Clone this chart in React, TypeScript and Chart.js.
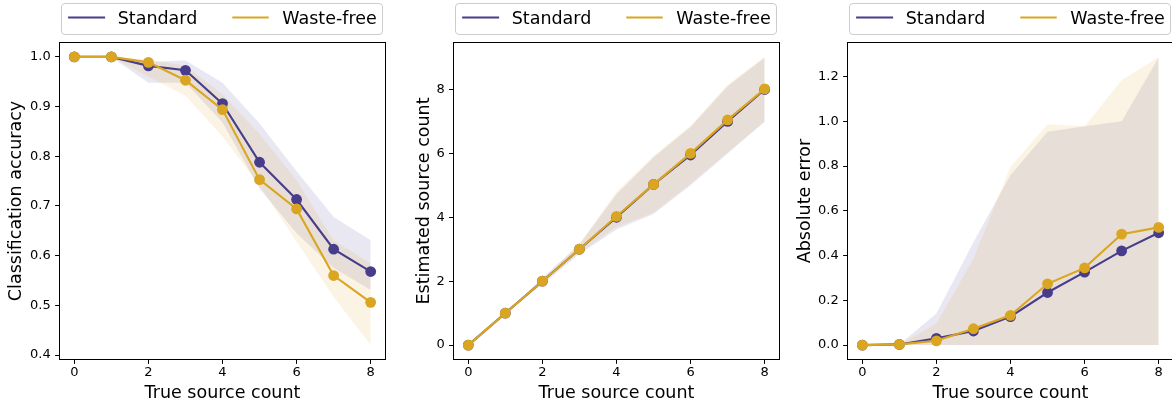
import React, { useEffect, useRef } from 'react';
import { Chart, registerables } from 'chart.js';

Chart.register(...registerables);

// ---------------- data ----------------
const COUNTS = [0, 1, 2, 3, 4, 5, 6, 7, 8];
const X_TICKS = [0, 2, 4, 6, 8];
const SERIES_NAMES = ['Standard', 'Waste-free'];
const X_LABEL = 'True source count';

// Panel 1: classification accuracy
const ACC_STD_MEAN = [1.0, 1.0, 0.982, 0.973, 0.906, 0.788, 0.713, 0.613, 0.568];
const ACC_STD_UPPER = [1.0, 1.0, 0.99, 0.993, 0.948, 0.866, 0.77, 0.678, 0.631];
const ACC_STD_LOWER = [1.0, 1.0, 0.948, 0.948, 0.868, 0.735, 0.645, 0.575, 0.531];
const ACC_WF_MEAN = [1.0, 1.0, 0.989, 0.953, 0.894, 0.753, 0.694, 0.56, 0.506];
const ACC_WF_UPPER = [1.0, 1.0, 0.995, 0.982, 0.925, 0.845, 0.752, 0.631, 0.584];
const ACC_WF_LOWER = [1.0, 1.0, 0.96, 0.922, 0.84, 0.74, 0.628, 0.517, 0.42];
const ACC_Y_TICKS = [0.4, 0.5, 0.6, 0.7, 0.8, 0.9, 1.0];

// Panel 2: estimated source count
const EST_STD_MEAN = [0, 1, 2, 3, 4.0, 5.03, 5.95, 7.0, 8.0];
const EST_STD_UPPER = [0, 1, 2.1, 3.15, 4.72, 5.88, 6.83, 8.1, 9.0];
const EST_STD_LOWER = [0, 1, 1.9, 2.85, 3.62, 4.1, 5.0, 6.0, 6.99];
const EST_WF_MEAN = [0, 1, 2, 3, 4.03, 5.03, 6.0, 7.05, 8.02];
const EST_WF_UPPER = [0, 1, 2.08, 3.18, 4.8, 5.92, 6.87, 8.15, 9.02];
const EST_WF_LOWER = [0, 1, 1.95, 2.9, 3.7, 4.14, 5.05, 6.03, 7.0];
const EST_Y_TICKS = [0, 2, 4, 6, 8];

// Panel 3: absolute error
const ERR_STD_MEAN = [0, 0.003, 0.03, 0.063, 0.127, 0.235, 0.326, 0.421, 0.502];
const ERR_STD_UPPER = [0, 0.003, 0.141, 0.46, 0.76, 0.953, 0.978, 1.0, 1.285];
const ERR_STD_LOWER = [0, 0, 0, 0, 0, 0, 0, 0, 0];
const ERR_WF_MEAN = [0, 0.003, 0.019, 0.073, 0.133, 0.274, 0.345, 0.496, 0.526];
const ERR_WF_UPPER = [0, 0.003, 0.097, 0.387, 0.797, 0.987, 0.978, 1.184, 1.288];
const ERR_WF_LOWER = [0, 0, 0, 0, 0, 0, 0, 0, 0];
const ERR_Y_TICKS = [0, 0.2, 0.4, 0.6, 0.8, 1.0, 1.2];

// ---------------- styles ----------------
const STD_COLOR = '#483d8b';
const WF_COLOR = '#daa520';
const STD_FILL = 'rgba(72,61,139,0.12)';
const WF_FILL = 'rgba(218,165,32,0.12)';
const FONT = "'DejaVu Sans', 'Noto Sans', sans-serif";

const CANVAS_W = 394;
const CANVAS_H = 403;
const Y_AXIS_W = 59.5;
const X_AXIS_H = 43.5;
const PAD_TOP = 42.5;
const PAD_RIGHT = 8.5;

type PanelCfg = {
  yLabel: string;
  stdMean: number[]; stdUpper: number[]; stdLower: number[];
  wfMean: number[]; wfUpper: number[]; wfLower: number[];
  yTicks: number[];
  decimals: number;
  yTitlePad: number;
};

const PANELS: PanelCfg[] = [
  {
    yLabel: 'Classification accuracy',
    stdMean: ACC_STD_MEAN, stdUpper: ACC_STD_UPPER, stdLower: ACC_STD_LOWER,
    wfMean: ACC_WF_MEAN, wfUpper: ACC_WF_UPPER, wfLower: ACC_WF_LOWER,
    yTicks: ACC_Y_TICKS, decimals: 1, yTitlePad: 7.0,
  },
  {
    yLabel: 'Estimated source count',
    stdMean: EST_STD_MEAN, stdUpper: EST_STD_UPPER, stdLower: EST_STD_LOWER,
    wfMean: EST_WF_MEAN, wfUpper: EST_WF_UPPER, wfLower: EST_WF_LOWER,
    yTicks: EST_Y_TICKS, decimals: 0, yTitlePad: 20.4,
  },
  {
    yLabel: 'Absolute error',
    stdMean: ERR_STD_MEAN, stdUpper: ERR_STD_UPPER, stdLower: ERR_STD_LOWER,
    wfMean: ERR_WF_MEAN, wfUpper: ERR_WF_UPPER, wfLower: ERR_WF_LOWER,
    yTicks: ERR_Y_TICKS, decimals: 1, yTitlePad: 7.9,
  },
];

const pts = (arr: number[]) => COUNTS.map((x, i) => ({ x, y: arr[i] }));

function paddedRange(arrs: number[][]) {
  const all = ([] as number[]).concat(...arrs);
  const lo = Math.min(...all);
  const hi = Math.max(...all);
  const m = (hi - lo) * 0.05;
  return [lo - m, hi + m];
}

const framePlugin = {
  id: 'mplFrame',
  afterDatasetsDraw(chart: any) {
    const { ctx, chartArea: a } = chart;
    ctx.save();
    ctx.strokeStyle = '#000';
    ctx.lineWidth = 1;
    ctx.strokeRect(a.left, a.top, a.right - a.left, a.bottom - a.top);
    ctx.restore();
  },
};

const legendPlugin = {
  id: 'mplLegend',
  afterDraw(chart: any) {
    const { ctx, chartArea: a } = chart;
    const L = a.left;
    ctx.save();
    const bx = L + 2.0;
    const by = 3.5;
    const bw = 321;
    const bh = 31;
    ctx.beginPath();
    (ctx as any).roundRect(bx, by, bw, bh, 3.5);
    ctx.fillStyle = 'rgba(255,255,255,0.8)';
    ctx.fill();
    ctx.strokeStyle = 'rgb(204,204,204)';
    ctx.lineWidth = 1;
    ctx.stroke();

    const hy = 17.5;
    const items = [
      { color: STD_COLOR, h0: L + 8.6, h1: L + 45.6, tx: L + 58.2, text: SERIES_NAMES[0] },
      { color: WF_COLOR, h0: L + 172.8, h1: L + 209.2, tx: L + 222.8, text: SERIES_NAMES[1] },
    ];
    ctx.font = `17.5px ${FONT}`;
    ctx.textBaseline = 'alphabetic';
    ctx.textAlign = 'left';
    for (const it of items) {
      ctx.beginPath();
      ctx.strokeStyle = it.color;
      ctx.lineWidth = 2.1;
      ctx.moveTo(it.h0, hy);
      ctx.lineTo(it.h1, hy);
      ctx.stroke();
      ctx.fillStyle = '#000';
      ctx.fillText(it.text, it.tx, 24.1);
    }
    ctx.restore();
  },
};

function buildConfig(p: PanelCfg): any {
  const [ymin, ymax] = paddedRange([p.stdMean, p.stdUpper, p.stdLower, p.wfMean, p.wfUpper, p.wfLower]);
  const band = (data: number[], fill: any, bg: string, order: number) => ({
    data: pts(data),
    borderColor: 'rgba(0,0,0,0)',
    borderWidth: 0,
    backgroundColor: bg,
    pointRadius: 0,
    pointHoverRadius: 0,
    fill,
    order,
  });
  const line = (data: number[], color: string, order: number, label: string) => ({
    label,
    data: pts(data),
    borderColor: color,
    backgroundColor: color,
    borderWidth: 2.1,
    pointRadius: 5.4,
    pointHoverRadius: 5.4,
    pointBorderWidth: 0,
    pointBackgroundColor: color,
    pointBorderColor: color,
    fill: false,
    order,
  });
  const tickFont = { family: FONT, size: 13 };
  const titleFont = { family: FONT, size: 17.5, lineHeight: 1.12 };
  const grid = {
    display: true,
    drawOnChartArea: false,
    drawTicks: true,
    tickLength: 4.4,
    tickWidth: 1,
    tickColor: '#000',
    color: '#000',
  };
  return {
    type: 'line',
    data: {
      datasets: [
        band(p.stdUpper, false, STD_FILL, 10),
        band(p.stdLower, '-1', STD_FILL, 9),
        band(p.wfUpper, false, WF_FILL, 8),
        band(p.wfLower, '-1', WF_FILL, 7),
        line(p.stdMean, STD_COLOR, 2, SERIES_NAMES[0]),
        line(p.wfMean, WF_COLOR, 1, SERIES_NAMES[1]),
      ],
    },
    options: {
      animation: false,
      responsive: false,
      devicePixelRatio: 1,
      events: [],
      layout: { padding: { left: 0, right: PAD_RIGHT, top: PAD_TOP, bottom: 0 } },
      elements: { line: { tension: 0 } },
      plugins: {
        legend: { display: false },
        tooltip: { enabled: false },
        title: { display: false },
      },
      scales: {
        x: {
          type: 'linear',
          position: 'bottom',
          min: -0.4,
          max: 8.4,
          grid,
          border: { display: false },
          ticks: {
            font: tickFont,
            color: '#000',
            padding: 1.4,
            autoSkip: false,
            maxRotation: 0,
            callback: (v: any) => String(v),
          },
          afterBuildTicks: (s: any) => { s.ticks = X_TICKS.map((v) => ({ value: v })); },
          afterFit: (s: any) => { s.height = X_AXIS_H; },
          title: { display: true, text: X_LABEL, font: titleFont, color: '#000', padding: { top: 0, bottom: 0 } },
        },
        y: {
          type: 'linear',
          position: 'left',
          min: ymin,
          max: ymax,
          grid,
          border: { display: false },
          ticks: {
            font: tickFont,
            color: '#000',
            padding: 4.4,
            autoSkip: false,
            callback: (v: any) => Number(v).toFixed(p.decimals),
          },
          afterBuildTicks: (s: any) => { s.ticks = p.yTicks.map((v) => ({ value: v })); },
          afterFit: (s: any) => { s.width = Y_AXIS_W; },
          title: { display: true, text: p.yLabel, font: titleFont, color: '#000', padding: { top: p.yTitlePad, bottom: 0 } },
        },
      },
    },
    plugins: [framePlugin, legendPlugin],
  };
}

function Panel({ cfg, left }: { cfg: PanelCfg; left: number }) {
  const ref = useRef<HTMLCanvasElement>(null);
  useEffect(() => {
    if (!ref.current) return;
    const chart = new Chart(ref.current, buildConfig(cfg));
    return () => chart.destroy();
  }, [cfg]);
  return (
    <canvas
      ref={ref}
      width={CANVAS_W}
      height={CANVAS_H}
      style={{ position: 'absolute', left, top: 0, width: CANVAS_W, height: CANVAS_H }}
    />
  );
}

export default function App() {
  return (
    <div
      style={{
        position: 'fixed',
        left: 0,
        top: 0,
        width: 1172,
        height: 403,
        overflow: 'hidden',
        background: '#fff',
      }}
    >
      {PANELS.map((p, i) => (
        <Panel key={i} cfg={p} left={i * 394} />
      ))}
    </div>
  );
}
